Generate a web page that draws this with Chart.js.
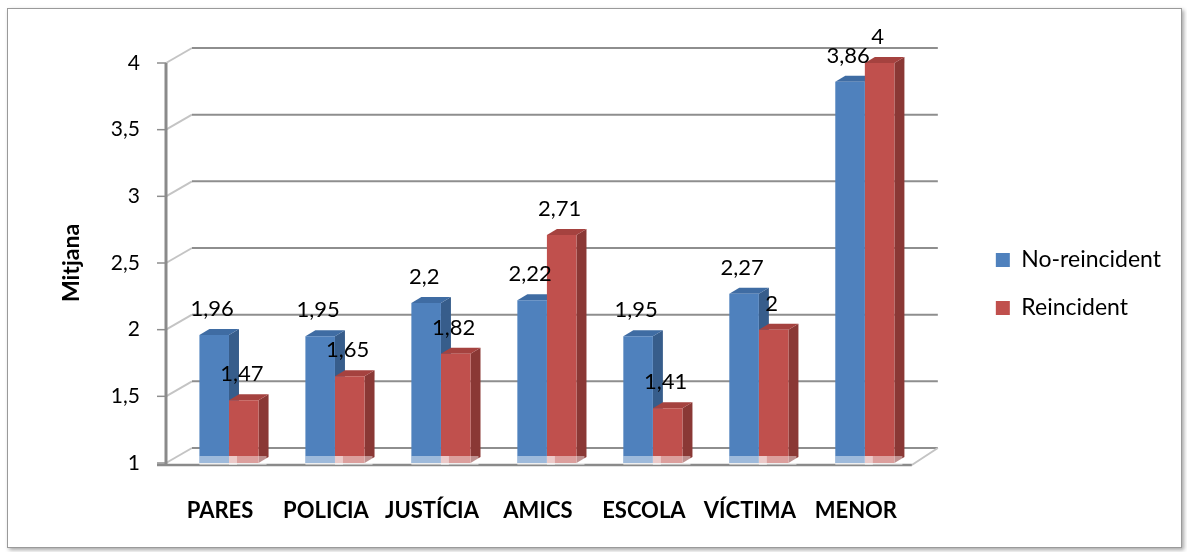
<!DOCTYPE html>
<html>
<head>
<meta charset="utf-8">
<script src="https://cdn.jsdelivr.net/npm/chart.js@4"></script>
<style>
  html, body { margin: 0; padding: 0; background: #fff; }
  #frame { position: absolute; left: 7px; top: 8px; width: 1173px; height: 538px;
           border: 1px solid #9a9a9a; box-shadow: 2px 2px 4px rgba(0,0,0,0.35); background: #fff; }
  #wrap { position: absolute; left: 0; top: 0; width: 1187px; height: 552px; }
</style>
</head>
<body>
<div id="frame"></div>
<div id="wrap"><canvas id="chart"></canvas></div>
<script>
var categories = ['PARES', 'POLICIA', 'JUSTÍCIA', 'AMICS', 'ESCOLA', 'VÍCTIMA', 'MENOR'];
var noReincident = [1.96, 1.95, 2.2, 2.22, 1.95, 2.27, 3.86];
var reincident = [1.47, 1.65, 1.82, 2.71, 1.41, 2, 4];
var yTicks = [1, 1.5, 2, 2.5, 3, 3.5, 4];

var WALL_DX = 26, WALL_DY = -15;   // depth of the back wall
var BAR_DX = 10, BAR_DY = -6;      // depth of each bar
var sideColors = ['#375d8b', '#8a3835'];
var topColors = ['#3f6ca3', '#a5423f'];

function fmt(v) { return String(v).replace('.', ','); }

function seg(ctx, x1, y1, x2, y2) {
  ctx.beginPath(); ctx.moveTo(x1, y1); ctx.lineTo(x2, y2); ctx.stroke();
}
function poly(ctx, pts, color) {
  ctx.fillStyle = color;
  ctx.beginPath();
  ctx.moveTo(pts[0][0], pts[0][1]);
  for (var i = 1; i < pts.length; i++) ctx.lineTo(pts[i][0], pts[i][1]);
  ctx.closePath();
  ctx.fill();
}

var box3d = {
  id: 'box3d',
  beforeDatasetsDraw: function (chart) {
    var ctx = chart.ctx, ys = chart.scales.y, area = chart.chartArea;
    var x0 = area.left - 10, x1 = area.right - 6;
    var yb = ys.getPixelForValue(1) + 2;
    ctx.save();
    ctx.lineWidth = 2;
    yTicks.forEach(function (v) {
      var y = ys.getPixelForValue(v);
      ctx.strokeStyle = '#c4c4c4';
      seg(ctx, x0, y, x0 + WALL_DX, y + WALL_DY);
      ctx.strokeStyle = '#8e8e8e';
      seg(ctx, x0 + WALL_DX, y + WALL_DY, x1 + WALL_DX, y + WALL_DY);
      ctx.lineWidth = 1.5;
      seg(ctx, x0 - 9, y, x0, y);
      ctx.lineWidth = 2;
    });
    // floor edge on the right
    ctx.strokeStyle = '#c4c4c4';
    seg(ctx, x1, yb, x1 + WALL_DX, ys.getPixelForValue(1) + WALL_DY);
    // front axes
    ctx.strokeStyle = '#8a8a8a';
    ctx.lineWidth = 3;
    seg(ctx, x0, ys.getPixelForValue(4), x0, yb);
    ctx.lineWidth = 2.5;
    seg(ctx, x0 - 9, yb, x1, yb);

    // side and top faces of bars
    for (var i = 0; i < categories.length; i++) {
      for (var d = 0; d < chart.data.datasets.length; d++) {
        var el = chart.getDatasetMeta(d).data[i];
        var base = Math.min(el.base, area.bottom);
        var l = el.x - el.width / 2, r = el.x + el.width / 2;
        poly(ctx, [[r, el.y], [r + BAR_DX, el.y + BAR_DY], [r + BAR_DX, base + BAR_DY], [r, base]], sideColors[d]);
        poly(ctx, [[l, el.y], [l + BAR_DX, el.y + BAR_DY], [r + BAR_DX, el.y + BAR_DY], [r, el.y]], topColors[d]);
      }
    }
    ctx.restore();
  },
  afterDatasetsDraw: function (chart) {
    var ctx = chart.ctx, area = chart.chartArea;
    ctx.save();
    chart.data.datasets.forEach(function (ds, d) {
      chart.getDatasetMeta(d).data.forEach(function (el, i) {
        var l = el.x - el.width / 2;
        var base = Math.min(el.base, area.bottom);
        ctx.fillStyle = 'rgba(255,255,255,0.45)';
        ctx.fillRect(l, base - 7, el.width + BAR_DX - 2, 9);
        ctx.fillStyle = '#000';
        ctx.font = '22px Lato';
        ctx.textAlign = 'center';
        ctx.textBaseline = 'middle';
        ctx.fillText(fmt(ds.data[i]), el.x - 2, el.y - 26);
      });
    });
    ctx.restore();
  }
};

Chart.defaults.font.family = 'Lato';
Chart.defaults.color = '#000';

new Chart(document.getElementById('chart').getContext('2d'), {
  type: 'bar',
  data: {
    labels: categories,
    datasets: [
      { label: 'No-reincident', data: noReincident, backgroundColor: '#4f81bd', borderWidth: 0 },
      { label: 'Reincident', data: reincident, backgroundColor: '#c0504d', borderWidth: 0 }
    ]
  },
  options: {
    responsive: true,
    maintainAspectRatio: false,
    animation: false,
    layout: { padding: { top: 16, bottom: 0, left: 0, right: 22 } },
    datasets: { bar: { barPercentage: 1, categoryPercentage: 0.558 } },
    plugins: {
      legend: {
        position: 'right',
        labels: { boxWidth: 14, boxHeight: 14, padding: 25, font: { size: 23 }, color: '#000' }
      },
      tooltip: { enabled: false }
    },
    scales: {
      x: {
        grid: { display: false, drawTicks: false },
        border: { display: false },
        ticks: { font: { size: 22, weight: 'bold' }, padding: 35, labelOffset: -9, maxRotation: 0, autoSkip: false },
        afterFit: function (s) { s.height = 89; }
      },
      xTop: {
        position: 'top',
        grid: { display: false, drawTicks: false },
        border: { display: false },
        ticks: { display: false },
        afterFit: function (s) { s.height = 47; }
      },
      y: {
        min: 1,
        max: 4,
        grid: { display: false, drawTicks: false },
        border: { display: false },
        afterBuildTicks: function (s) { s.ticks = yTicks.map(function (v) { return { value: v }; }); },
        ticks: { font: { size: 21 }, padding: 36, callback: function (v) { return fmt(v); } },
        title: { display: true, text: 'Mitjana', font: { size: 23, weight: 'bold' }, padding: { top: 58, bottom: 0 } },
        afterFit: function (s) { s.width = 176; }
      },
      y2: {
        position: 'right',
        grid: { display: false, drawTicks: false },
        border: { display: false },
        ticks: { display: false },
        afterFit: function (s) { s.width = 53; }
      }
    }
  },
  plugins: [box3d]
});
</script>
</body>
</html>
